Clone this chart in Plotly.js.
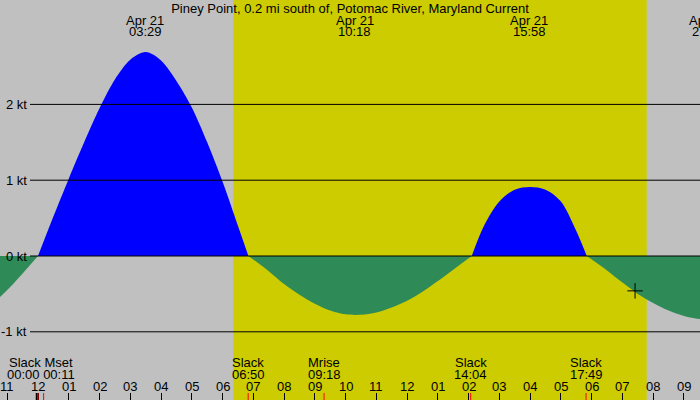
<!DOCTYPE html>
<html>
<head>
<meta charset="utf-8">
<script src="https://cdn.plot.ly/plotly-3.0.1.min.js"></script>
<style>
    body { margin: 0; background: #c0c0c0; }
    #plot { width: 700px; height: 400px; }
</style>
</head>
<body>
<div id="plot"></div>
<script>
// hours after midnight Apr 21, current in knots
const hours = [
    -1.5, -1.0, -0.5, 0.0,
    0.5, 1.0, 1.5, 2.0, 2.5, 3.0, 3.5, 4.0, 4.5, 5.0, 5.5, 6.0, 6.5, 6.84,
    7.5, 8.0, 8.5, 9.0, 9.5, 10.0, 10.5, 11.0, 11.5, 12.0, 12.5, 13.0, 13.5, 14.1,
    14.5, 15.0, 15.5, 16.0, 16.5, 17.0, 17.5, 17.84,
    18.5, 19.0, 19.5, 20.0, 20.5, 21.0, 21.5, 22.0
];
const knots = [
    -0.64, -0.45, -0.23, 0,
    0.52, 1.02, 1.5, 1.95, 2.33, 2.59, 2.69, 2.58, 2.31, 1.96, 1.5, 0.98, 0.4, 0,
    -0.2, -0.37, -0.51, -0.63, -0.72, -0.77, -0.775, -0.745, -0.68, -0.59, -0.47, -0.33, -0.18, 0,
    0.4, 0.72, 0.875, 0.91, 0.875, 0.72, 0.33, 0,
    -0.19, -0.35, -0.5, -0.62, -0.72, -0.79, -0.83, -0.85
];

// max current labels along the top
const max_times = [3.483, 10.3, 15.967, 21.783];
const max_labels = ["03:29", "10:18", "15:58", "21:47"];

// events along the bottom
const event_times = [0.1, 6.833, 9.3, 14.067, 17.817];
const event_names = ["Slack Mset", "Slack", "Mrise", "Slack", "Slack"];
const event_clock = ["00:00 00:11", "06:50", "09:18", "14:04", "17:49"];
const event_marks = [0.0, 0.183, 6.833, 9.3, 14.067, 17.817];

// hour ticks
const tick_hours = [-1, 0, 1, 2, 3, 4, 5, 6, 7, 8, 9, 10, 11, 12, 13, 14, 15, 16, 17, 18, 19, 20, 21];
const tick_text = ["11", "12", "01", "02", "03", "04", "05", "06", "07", "08", "09", "10",
                   "11", "12", "01", "02", "03", "04", "05", "06", "07", "08", "09"];

const grid_knots = [2, 1, 0, -1];
const grid_labels = ["2 kt", "1 kt", "0 kt", "-1 kt"];

const sunrise = 6.35;
const sunset = 19.79;
const marker_hour = 19.41;
const marker_knots = -0.46;

const FONT = {family: "Liberation Sans, Arial, sans-serif", size: 13, color: "#000"};

// 38 px at midnight, 30.76 px per hour
const x_range = [-38 / 30.76, 662 / 30.76];
const y_range = [-144 / 75.8, 256 / 75.8];

// hour -> paper fraction, so labels past the right edge still get drawn (clipped)
function hour_to_paper(h) {
    return (h - x_range[0]) / (x_range[1] - x_range[0]);
}

// split the curve into flood/ebb segments at the zero crossings
let traces = [];
let seg_x = [], seg_y = [];
function flush() {
    if (seg_x.length > 1) {
        let positive = seg_y.some(v => v > 0);
        let color = positive ? "#0000ff" : "#2e8b57";
        traces.push({
            x: seg_x, y: seg_y,
            mode: "lines",
            line: {width: 0, shape: "spline", smoothing: 0.9, color: color},
            fill: "tozeroy",
            fillcolor: color,
            hoverinfo: "skip",
        });
    }
}
for (let i = 0; i < hours.length; i++) {
    seg_x.push(hours[i]);
    seg_y.push(knots[i]);
    if (knots[i] === 0 && seg_x.length > 1) {
        flush();
        seg_x = [hours[i]];
        seg_y = [knots[i]];
    }
}
flush();

traces.push({
    x: [marker_hour], y: [marker_knots],
    mode: "markers",
    marker: {symbol: "cross-thin", size: 11, line: {width: 1, color: "#000"}},
});

let shapes = [];
shapes.push({
    type: "rect", xref: "x", yref: "paper", x0: sunrise, x1: sunset, y0: 0, y1: 1,
    fillcolor: "#cccc00", line: {width: 0}, layer: "below",
});
for (const k of grid_knots) {
    shapes.push({
        type: "line", xref: "paper", yref: "y", x0: 30 / 700, x1: 1, y0: k, y1: k,
        line: {color: "#000", width: 1}, layer: "above",
    });
}
shapes.push({
    type: "line", xref: "x", yref: "paper", x0: -0.04, x1: -0.04, y0: 0, y1: 0.0175,
    line: {color: "#000", width: 2},
});
for (const t of event_marks) {
    shapes.push({
        type: "line", xref: "x", yref: "paper", x0: t, x1: t, y0: 0, y1: 0.0175,
        line: {color: "#ff0000", width: 1},
    });
}

let annotations = [];
for (let i = 0; i < grid_knots.length; i++) {
    annotations.push({
        xref: "paper", yref: "y", x: 29 / 700, y: grid_knots[i],
        xanchor: "right", yanchor: "middle", showarrow: false,
        text: grid_labels[i], font: FONT,
    });
}
for (let i = 0; i < max_times.length; i++) {
    annotations.push({
        xref: "paper", yref: "paper", x: hour_to_paper(max_times[i]), y: 1 - 20 / 400,
        xanchor: "center", yanchor: "middle", showarrow: false,
        text: "Apr 21", font: FONT,
    });
    annotations.push({
        xref: "paper", yref: "paper", x: hour_to_paper(max_times[i]), y: 1 - 32 / 400,
        xanchor: "center", yanchor: "middle", showarrow: false,
        text: max_labels[i], font: FONT,
    });
}
for (let i = 0; i < event_times.length; i++) {
    annotations.push({
        xref: "x", yref: "paper", x: event_times[i], y: 1 - 362 / 400,
        xanchor: "center", yanchor: "middle", showarrow: false,
        text: event_names[i], font: FONT,
    });
    annotations.push({
        xref: "x", yref: "paper", x: event_times[i], y: 1 - 374 / 400,
        xanchor: "center", yanchor: "middle", showarrow: false,
        text: event_clock[i], font: FONT,
    });
}
for (let i = 0; i < tick_hours.length; i++) {
    annotations.push({
        xref: "x", yref: "paper", x: tick_hours[i], y: 1 - 386 / 400,
        xanchor: "center", yanchor: "middle", showarrow: false,
        text: tick_text[i], font: FONT,
    });
}

let layout = {
    width: 700, height: 400,
    margin: {l: 0, r: 0, t: 0, b: 0},
    paper_bgcolor: "#c0c0c0",
    plot_bgcolor: "#c0c0c0",
    showlegend: false,
    font: FONT,
    title: {
        text: "Piney Point, 0.2 mi south of, Potomac River, Maryland Current",
        x: 0.5, xanchor: "center", y: 1 - 8 / 400, yanchor: "middle",
        font: FONT,
    },
    xaxis: {
        range: x_range, fixedrange: true,
        showgrid: false, zeroline: false, showline: false,
        tickmode: "array", tickvals: tick_hours,
        ticks: "inside", ticklen: 7, tickcolor: "#000", tickwidth: 1,
        showticklabels: false,
    },
    yaxis: {
        range: y_range, fixedrange: true,
        showgrid: false, zeroline: false, showline: false,
        showticklabels: false, ticks: "",
    },
    shapes: shapes,
    annotations: annotations,
};

Plotly.newPlot("plot", traces, layout, {staticPlot: true});
</script>
</body>
</html>
